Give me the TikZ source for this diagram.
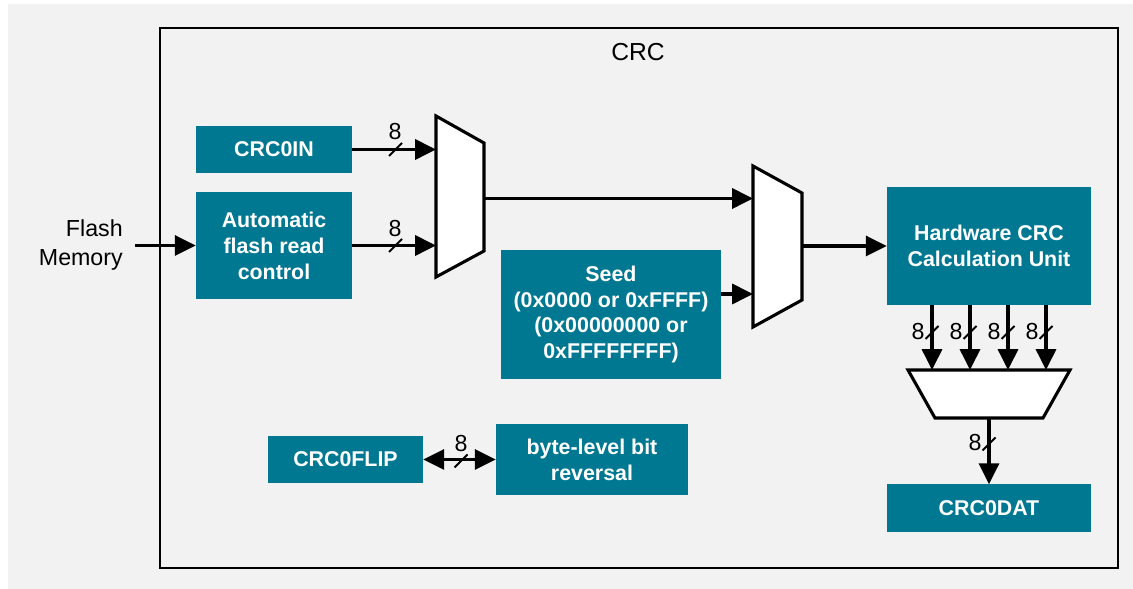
\documentclass[tikz,border=0pt]{standalone}
\usepackage{fontspec}
\setmainfont{Liberation Sans}
\usetikzlibrary{calc, positioning, arrows.meta}

\definecolor{crcteal}{RGB}{0,120,146}
\definecolor{crcgray}{RGB}{242,242,242}

\begin{document}
\begin{tikzpicture}[x=0.025cm, y=-0.025cm,
  block/.style={fill=crcteal, text=white, align=center, inner sep=0pt,
    font=\fontsize{15.2}{18.4}\selectfont\bfseries},
  bus/.style={line width=2.2pt, -{Triangle[length=0.52cm, width=0.5cm]}},
  bibus/.style={line width=2.2pt, {Triangle[length=0.52cm, width=0.5cm]}-{Triangle[length=0.52cm, width=0.5cm]}},
  mux/.style={draw, fill=white, line width=2.2pt, line join=miter},
  tick/.style={line width=1.3pt},
  bits/.style={font=\fontsize{16.5}{18}\selectfont, inner sep=0pt}]

  % page and frame
  \useasboundingbox (0,0) rectangle (1133,589);
  \fill[crcgray] (8,4) rectangle (1133,589);
  \draw[line width=1.8pt] (160,28) rectangle (1118,568);
  \node[font=\fontsize{17.5}{20}\selectfont] (title) at (638,52) {CRC};

  % blocks
  \node[block, minimum width=3.9cm, minimum height=1.15cm] (crcin) at (274,149.5) {CRC0IN};
  \node[block, minimum width=3.9cm, minimum height=2.675cm] (autoread) at (274,245.5) {Automatic\\flash read\\control};
  \node[block, minimum width=5.5cm, minimum height=3.225cm] (seed) at (611,314.5) {Seed\\(0x0000 or 0xFFFF)\\(0x00000000 or\\0xFFFFFFFF)};
  \node[block, minimum width=5.1cm, minimum height=2.95cm] (hw) at (989,246) {Hardware CRC\\Calculation Unit};
  \node[block, minimum width=5.1cm, minimum height=1.175cm] (dat) at (989,508) {CRC0DAT};
  \node[block, minimum width=3.875cm, minimum height=1.175cm] (flip) at (345.5,459.5) {CRC0FLIP};
  \node[block, minimum width=4.8cm, minimum height=1.775cm] (rev) at (592,459.5) {byte-level bit\\reversal};

  % flash input
  \node[anchor=east, align=right, inner sep=0pt, font=\fontsize{16.5}{21}\selectfont] (flash) at (123,245) {Flash\\Memory};
  \coordinate (flashout) at (135,245.5);
  \draw[bus] (flashout) -- (autoread.west);

  % first mux
  \draw[mux] (436,116) -- (484,143) -- (484,251) -- (436,277) -- cycle;
  \coordinate (m1a) at (436,149.5);
  \coordinate (m1b) at (436,245.5);
  \coordinate (m1o) at (484,198.5);
  \draw[bus] (crcin.east) -- (m1a);
  \draw[bus] (autoread.east |- m1b) -- (m1b);
  \draw[tick] (395.5,149.5) ++(-6.5,6.5) -- ++(13,-13);
  \draw[tick] (395.5,245.5) ++(-6.5,6.5) -- ++(13,-13);
  \node[bits] (b1) at (395,132) {8};
  \node[bits] (b2) at (395,229) {8};

  % second mux
  \draw[mux] (753,166) -- (802,193) -- (802,300) -- (753,327) -- cycle;
  \coordinate (m2a) at (753,198.5);
  \coordinate (m2b) at (753,294);
  \coordinate (m2o) at (802,246);
  \draw[bus] (m1o) -- (m2a);
  \draw[bus] (seed.east |- m2b) -- (m2b);
  \draw[bus] (m2o) -- (hw.west);

  % byte mux
  \draw[mux] (908,370) -- (1070,370) -- (1043,418) -- (935,418) -- cycle;
  \foreach \x [count=\i] in {932,970,1008,1046} {
    \coordinate (t\i) at (\x,370);
    \draw[bus] (t\i |- hw.south) -- (t\i);
    \draw[tick] ($(t\i)+(0,-37.5)$) ++(-6.5,6.5) -- ++(13,-13);
    \node[bits] (c\i) at ($(t\i)+(-14,-38)$) {8};
  }
  \coordinate (m3o) at (989,418);
  \draw[bus] (m3o) -- (dat.north);
  \draw[tick] (989,444) ++(-6.5,6.5) -- ++(13,-13);
  \node[bits] (b3) at (975,443) {8};

  % flip
  \draw[bibus] (flip.east) -- (rev.west);
  \draw[tick] (461,461) ++(-6.5,6.5) -- ++(13,-13);
  \node[bits] (b4) at (461,444) {8};
\end{tikzpicture}
\end{document}
